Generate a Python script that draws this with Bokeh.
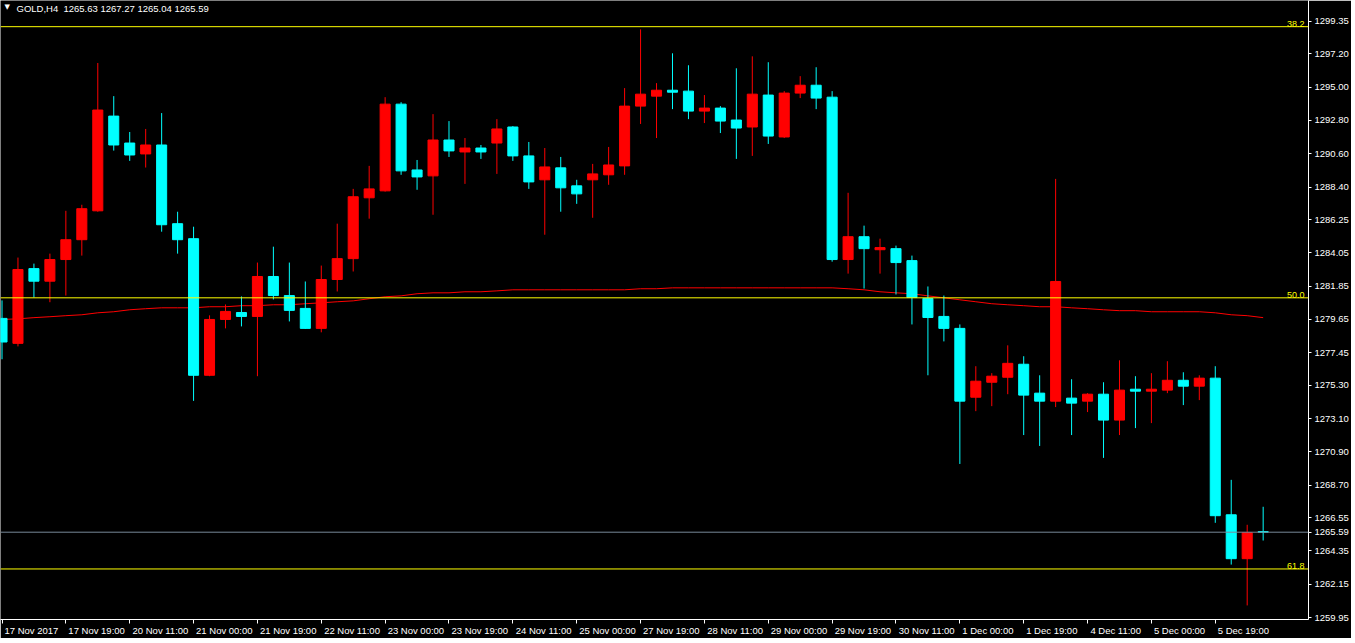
from bokeh.plotting import figure
from bokeh.models import (ColumnDataSource, LinearAxis, FixedTicker, PrintfTickFormatter,
                          Span, Label, Range1d)
from bokeh.embed import file_html
from bokeh.resources import INLINE

symbol = "GOLD,H4"

opens = [1279.72, 1278.07, 1283.01, 1282.18, 1283.61, 1284.92, 1286.83, 1293.09, 1291.31, 1290.59,
         1291.18, 1285.98, 1284.99, 1275.96, 1279.65, 1280.11, 1279.85, 1282.49, 1281.23, 1280.38,
         1279.06, 1282.29, 1283.67, 1287.69, 1288.15, 1293.88, 1289.53, 1289.14, 1291.51, 1290.72,
         1290.98, 1291.31, 1292.37, 1290.46, 1288.88, 1289.67, 1288.48, 1288.88, 1289.21, 1289.80,
         1293.75, 1294.41, 1294.80, 1294.74, 1293.42, 1293.62, 1292.83, 1292.37, 1294.48, 1291.71,
         1294.61, 1295.13, 1294.34, 1283.61, 1285.12, 1284.26, 1284.33, 1283.54, 1281.04, 1279.85,
         1279.06, 1274.51, 1275.50, 1275.83, 1276.69, 1274.78, 1274.25, 1274.45, 1274.25, 1274.71,
         1273.00, 1275.04, 1274.91, 1274.98, 1275.63, 1275.24, 1275.77, 1266.74, 1263.84, 1265.63]

highs = [1280.91, 1283.74, 1283.34, 1284.00, 1286.83, 1287.23, 1296.60, 1294.41, 1292.04, 1292.24,
         1293.29, 1286.77, 1285.78, 1279.92, 1280.64, 1281.17, 1283.41, 1284.46, 1283.41, 1282.16,
         1283.21, 1285.98, 1288.28, 1289.80, 1294.34, 1294.01, 1290.19, 1293.22, 1292.76, 1291.64,
         1291.18, 1292.89, 1292.43, 1291.38, 1290.98, 1290.39, 1288.88, 1289.93, 1291.05, 1294.94,
         1298.82, 1295.27, 1297.24, 1296.45, 1294.48, 1293.75, 1296.25, 1297.04, 1296.65, 1294.74,
         1295.73, 1296.32, 1294.74, 1288.02, 1285.85, 1284.99, 1284.53, 1283.87, 1281.83, 1281.23,
         1279.32, 1276.56, 1276.10, 1277.94, 1277.22, 1275.96, 1288.94, 1275.70, 1274.78, 1275.50,
         1276.95, 1275.90, 1276.10, 1276.89, 1276.16, 1275.96, 1276.56, 1269.05, 1266.08, 1267.27]

lows = [1277.02, 1277.87, 1281.10, 1280.79, 1281.23, 1283.87, 1286.77, 1290.81, 1290.13, 1289.69,
        1285.45, 1284.00, 1274.27, 1275.90, 1279.06, 1279.19, 1275.90, 1280.97, 1279.52, 1279.03,
        1278.80, 1281.50, 1282.82, 1286.31, 1288.10, 1289.21, 1288.22, 1286.57, 1290.39, 1288.61,
        1290.26, 1289.27, 1290.13, 1288.28, 1285.25, 1286.77, 1287.29, 1286.37, 1288.55, 1289.21,
        1292.57, 1291.64, 1293.55, 1292.89, 1292.63, 1291.97, 1290.26, 1290.46, 1291.25, 1291.64,
        1294.28, 1293.55, 1283.47, 1282.68, 1281.69, 1282.68, 1281.30, 1279.32, 1275.96, 1278.20,
        1270.10, 1273.59, 1273.92, 1274.71, 1272.01, 1271.29, 1273.86, 1272.01, 1273.53, 1270.50,
        1272.01, 1272.47, 1272.80, 1274.78, 1273.99, 1274.32, 1266.21, 1263.45, 1260.75, 1265.04]

closes = [1278.16, 1282.95, 1282.18, 1283.61, 1284.92, 1286.97, 1293.49, 1291.18, 1290.52, 1291.18,
          1285.91, 1284.92, 1275.96, 1279.65, 1280.18, 1279.85, 1282.49, 1281.23, 1280.25, 1279.06,
          1282.29, 1283.67, 1287.76, 1288.28, 1293.88, 1289.47, 1289.07, 1291.51, 1290.79, 1290.98,
          1290.72, 1292.24, 1290.46, 1288.74, 1289.73, 1288.35, 1287.95, 1289.27, 1289.86, 1293.75,
          1294.54, 1294.80, 1294.67, 1293.42, 1293.62, 1292.76, 1292.30, 1294.54, 1291.77, 1294.61,
          1295.13, 1294.28, 1283.61, 1285.12, 1284.33, 1284.40, 1283.41, 1281.10, 1279.78, 1279.06,
          1274.25, 1275.57, 1275.90, 1276.75, 1274.65, 1274.25, 1282.16, 1274.12, 1274.71, 1273.00,
          1274.98, 1274.91, 1275.04, 1275.63, 1275.24, 1275.77, 1266.68, 1263.84, 1265.56, 1265.59]

ma_values = [1279.65, 1279.69, 1279.77, 1279.83, 1279.90, 1279.96, 1280.09, 1280.16, 1280.29, 1280.36,
             1280.42, 1280.42, 1280.42, 1280.49, 1280.49, 1280.56, 1280.56, 1280.62, 1280.62, 1280.69,
             1280.75, 1280.82, 1280.88, 1281.02, 1281.15, 1281.21, 1281.35, 1281.41, 1281.41, 1281.48,
             1281.48, 1281.54, 1281.61, 1281.61, 1281.61, 1281.61, 1281.61, 1281.61, 1281.61, 1281.61,
             1281.68, 1281.68, 1281.74, 1281.74, 1281.74, 1281.74, 1281.74, 1281.74, 1281.74, 1281.74,
             1281.74, 1281.74, 1281.74, 1281.68, 1281.61, 1281.48, 1281.41, 1281.35, 1281.21, 1281.08,
             1280.95, 1280.82, 1280.69, 1280.62, 1280.56, 1280.49, 1280.49, 1280.42, 1280.36, 1280.29,
             1280.23, 1280.23, 1280.16, 1280.16, 1280.16, 1280.16, 1280.09, 1279.96, 1279.90, 1279.77]

tick_bars = [0, 4, 8, 12, 16, 20, 24, 28, 32, 36, 40, 44, 48, 52, 56, 60, 64, 68, 72, 76]
time_labels = ["17 Nov 2017", "17 Nov 19:00", "20 Nov 11:00", "21 Nov 00:00", "21 Nov 19:00",
               "22 Nov 11:00", "23 Nov 00:00", "23 Nov 19:00", "24 Nov 11:00", "25 Nov 00:00",
               "27 Nov 19:00", "28 Nov 11:00", "29 Nov 00:00", "29 Nov 19:00", "30 Nov 11:00",
               "1 Dec 00:00", "1 Dec 19:00", "4 Dec 11:00", "5 Dec 00:00", "5 Dec 19:00"]

price_ticks = [1299.35, 1297.20, 1295.00, 1292.80, 1290.60, 1288.40, 1286.25, 1284.05, 1281.85,
               1279.65, 1277.45, 1275.30, 1273.10, 1270.90, 1268.70, 1266.55, 1264.35, 1262.15, 1259.95]

fib_levels = [1299.00, 1281.08, 1263.16]
fib_labels = ["38.2", "50.0", "61.8"]

X_START, X_END = -0.094, 81.84
Y_START, Y_END = 1259.82, 1300.73
FRAME_W, FRAME_H = 1308, 619

BULL = "#FF0000"
BEAR = "#00FFFF"
FONT = "Liberation Sans"
FONT_PX = 9.5

xs = list(range(len(opens)))
colors = [BULL if c >= o else BEAR for o, c in zip(opens, closes)]
src = ColumnDataSource(dict(
    x=xs, high=highs, low=lows,
    top=[max(o, c) for o, c in zip(opens, closes)],
    bottom=[min(o, c) for o, c in zip(opens, closes)],
    color=colors))

p = figure(frame_width=FRAME_W, frame_height=FRAME_H, output_backend="svg", toolbar_location=None,
           x_range=Range1d(X_START, X_END), y_range=Range1d(Y_START, Y_END),
           x_axis_location=None, y_axis_location=None,
           background_fill_color="black", border_fill_color="black",
           min_border_left=0, min_border_top=0, min_border_right=0, min_border_bottom=0)
p.outline_line_color = None
p.grid.visible = False

# fibonacci levels
for lvl, lab in zip(fib_levels, fib_labels):
    p.add_layout(Span(location=lvl, dimension="width", line_color="#FFFF00", line_width=1))
    p.add_layout(Label(x=X_END, y=lvl, x_offset=-4, text=lab, text_align="right",
                       text_baseline="bottom", text_color="#FFFF00",
                       text_font=FONT, text_font_size="9px"))

# current price line
p.add_layout(Span(location=closes[-1], dimension="width", line_color="#778899", line_width=1))

# moving average
p.line(xs, ma_values, line_color="#FF0000", line_width=1)

# candles
p.segment(x0="x", x1="x", y0="high", y1="low", line_color="color", line_width=1, source=src)
p.vbar(x="x", width=0.63, top="top", bottom="bottom", fill_color="color",
       line_color="color", line_width=1, source=src)

# right price axis (with the current price shown among the labels)
axis_ticks = sorted(price_ticks + [closes[-1]], reverse=True)
yax = LinearAxis(ticker=FixedTicker(ticks=axis_ticks),
                 formatter=PrintfTickFormatter(format="%.2f"))
yax.axis_line_color = "white"
yax.major_tick_line_color = "white"
yax.major_tick_in = 0
yax.major_tick_out = 3
yax.minor_tick_line_color = None
yax.major_label_standoff = 3
yax.major_label_text_color = "white"
yax.major_label_text_font = FONT
yax.major_label_text_font_size = f"{FONT_PX}px"
p.add_layout(yax, "right")

# bottom time axis: tick marks at the bars
xax = LinearAxis(ticker=FixedTicker(ticks=tick_bars),
                 major_label_overrides={float(t): "" for t in tick_bars})
xax.axis_line_color = "white"
xax.major_tick_line_color = "white"
xax.major_tick_in = 0
xax.major_tick_out = 4
xax.minor_tick_line_color = None
xax.major_label_standoff = 0
xax.major_label_text_font_size = "1px"
p.add_layout(xax, "below")

# time labels, left-aligned to the right of each tick (MT4 style)
ARIAL_W = {" ": 278, ":": 278, "N": 722, "o": 556, "v": 500, "D": 722, "e": 556, "c": 500}
def text_width(s):
    return sum(ARIAL_W.get(ch, 556) for ch in s) / 1000.0 * FONT_PX

ppb = FRAME_W / (X_END - X_START)
label_pos = [round(t + (2.5 + text_width(s) / 2) / ppb, 4) for t, s in zip(tick_bars, time_labels)]
lax = LinearAxis(ticker=FixedTicker(ticks=label_pos),
                 major_label_overrides={pos: s for pos, s in zip(label_pos, time_labels)})
lax.axis_line_color = None
lax.major_tick_line_color = None
lax.major_tick_in = 0
lax.major_tick_out = 0
lax.minor_tick_line_color = None
lax.major_label_standoff = 1
lax.major_label_text_color = "white"
lax.major_label_text_font = FONT
lax.major_label_text_font_size = f"{FONT_PX}px"
p.add_layout(lax, "below")

# header
p.add_layout(Label(x=4, y=Y_END, x_units="screen", y_offset=-2, text="\u25bc",
                   text_align="left", text_baseline="top", text_color="white",
                   text_font="DejaVu Sans", text_font_size="7px"))
header = f"{symbol}\u00a0 {opens[-1]:.2f} {highs[-1]:.2f} {lows[-1]:.2f} {closes[-1]:.2f}"
p.add_layout(Label(x=16, y=Y_END, x_units="screen", y_offset=-2, text=header,
                   text_align="left", text_baseline="top", text_color="white",
                   text_font=FONT, text_font_size=f"{FONT_PX}px"))

open("out.html", "w").write(file_html(p, INLINE))
